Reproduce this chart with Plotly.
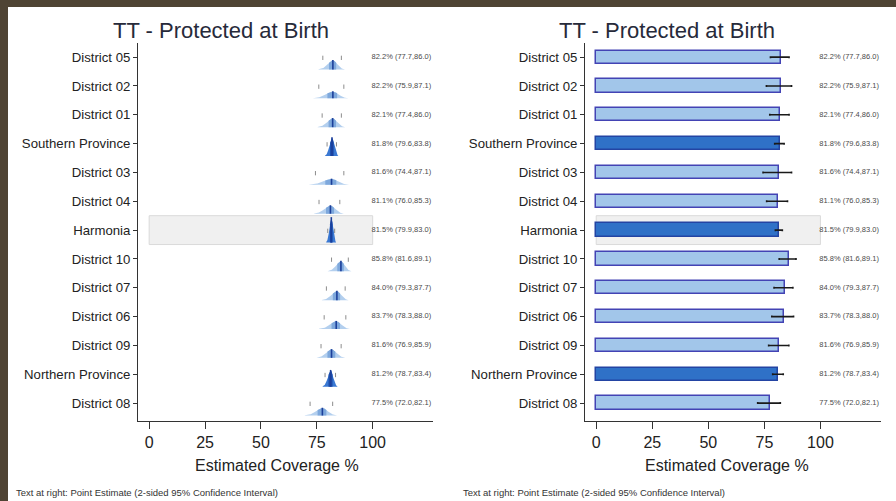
import numpy as np
import plotly.graph_objects as go

# ---- data -------------------------------------------------------------
labels = ["District 05", "District 02", "District 01", "Southern Province",
          "District 03", "District 04", "Harmonia", "District 10",
          "District 07", "District 06", "District 09", "Northern Province",
          "District 08"]
estimate = [82.2, 82.2, 82.1, 81.8, 81.6, 81.1, 81.5, 85.8, 84.0, 83.7, 81.6, 81.2, 77.5]
ci_low = [77.7, 75.9, 77.4, 79.6, 74.4, 76.0, 79.9, 81.6, 79.3, 78.3, 76.9, 78.7, 72.0]
ci_high = [86.0, 87.1, 86.0, 83.8, 87.1, 85.3, 83.0, 89.1, 87.7, 88.0, 85.9, 83.4, 82.1]
# 0 = district, 1 = province, 2 = national
level = [0, 0, 0, 1, 0, 0, 2, 0, 0, 0, 0, 1, 0]
x_ticks = [0, 25, 50, 75, 100]

title_text = "TT - Protected at Birth"
axis_title = "Estimated Coverage %"
footnote = "Text at right: Point Estimate (2-sided 95% Confidence Interval)"

# ---- styling ----------------------------------------------------------
FONT = "Liberation Sans, Arial, Helvetica, sans-serif"
W, H = 896, 501
rows = list(range(len(labels)))
national_row = level.index(2)

light_fill, light_line = "#a2c6ea", "#4343b4"
dark_fill, dark_line = "#2f71c7", "#2344a3"
worm_light, worm_light_core = "#b3cfee", "#7ea8dc"
worm_dark, worm_dark_core = "#3a78d2", "#1d4fae"

xdom_left = [138 / W, 433 / W]
xdom_right = [585 / W, 881 / W]
ydom = [1 - 421 / H, 1 - 43 / H]
yrange = [12.62, -0.49]
xrange = [-5, 127]

fig = go.Figure()

# ---- left panel: inchworm distributions ------------------------------
tick_x, tick_y = [], []
for i in rows:
    for v in (ci_low[i], ci_high[i]):
        tick_x += [v, v, None]
        tick_y += [i - 0.05, i + 0.1, None]
fig.add_trace(go.Scatter(x=tick_x, y=tick_y, mode="lines",
                         line=dict(color="#8c8c8c", width=1),
                         xaxis="x", yaxis="y", hoverinfo="skip", showlegend=False))

K = 2.6  # peak height (row units) times CI width
for i in rows:
    est, lo, hi = estimate[i], ci_low[i], ci_high[i]
    sdl, sdr = (est - lo) / 1.96, (hi - est) / 1.96
    base = i + 0.43
    peak = K / (hi - lo)
    xs = np.concatenate([np.linspace(est - 2.8 * sdl, est, 60),
                         np.linspace(est, est + 2.8 * sdr, 60)[1:]])
    sd = np.where(xs < est, sdl, sdr)
    dens = np.exp(-0.5 * ((xs - est) / sd) ** 2)
    ys = base - peak * dens
    outer, core = (worm_light, worm_light_core) if level[i] == 0 else (worm_dark, worm_dark_core)
    fig.add_trace(go.Scatter(
        x=np.concatenate([xs, xs[::-1]]),
        y=np.concatenate([ys, np.full_like(ys, base)]),
        fill="toself", fillcolor=outer, mode="lines", line=dict(width=0),
        xaxis="x", yaxis="y", hoverinfo="skip", showlegend=False))
    m = np.abs((xs - est) / sd) <= 0.8
    xc, yc = xs[m], ys[m]
    fig.add_trace(go.Scatter(
        x=np.concatenate([xc, xc[::-1]]),
        y=np.concatenate([yc, np.full_like(yc, base)]),
        fill="toself", fillcolor=core, mode="lines", line=dict(width=0),
        xaxis="x", yaxis="y", hoverinfo="skip", showlegend=False))
    fig.add_trace(go.Scatter(
        x=[est, est], y=[base, base - peak * 1.05], mode="lines",
        line=dict(color="#1c3f9a", width=1.6),
        xaxis="x", yaxis="y", hoverinfo="skip", showlegend=False))

value_text = [f"{e:.1f}% ({l:.1f},{h:.1f})" for e, l, h in zip(estimate, ci_low, ci_high)]

for xa, ya in (("x", "y"), ("x2", "y2")):
    fig.add_trace(go.Scatter(
        x=[99.5] * len(rows), y=rows, mode="text", text=value_text,
        textposition="middle right",
        textfont=dict(family=FONT, size=7.5, color="#4a4a4a"),
        xaxis=xa, yaxis=ya, hoverinfo="skip", showlegend=False))

# ---- right panel: bars with confidence intervals ---------------------
fig.add_trace(go.Bar(
    x=estimate, y=rows, orientation="h", width=0.46,
    marker=dict(color=[light_fill if lv == 0 else dark_fill for lv in level],
                line=dict(color=[light_line if lv == 0 else dark_line for lv in level], width=1.5)),
    error_x=dict(type="data", symmetric=False,
                 array=[h - e for e, h in zip(estimate, ci_high)],
                 arrayminus=[e - l for e, l in zip(estimate, ci_low)],
                 color="#1a1a1a", thickness=1.6, width=1),
    xaxis="x2", yaxis="y2", hoverinfo="skip", showlegend=False))

# ---- axes -------------------------------------------------------------
xa_common = dict(range=xrange, tickvals=x_ticks, ticks="outside", ticklen=7,
                 tickcolor="#333", tickwidth=1, showline=True, linecolor="#333",
                 linewidth=1, showgrid=False, zeroline=False,
                 tickfont=dict(family=FONT, size=16, color="#222"))
ya_common = dict(range=yrange, tickvals=rows, ticktext=labels, ticks="outside",
                 ticklen=4, tickcolor="#333", tickwidth=1, showline=True,
                 linecolor="#333", linewidth=1, showgrid=False, zeroline=False,
                 tickfont=dict(family=FONT, size=13.2, color="#222"))

band = dict(type="rect", x0=0, x1=100, y0=national_row - 0.5, y1=national_row + 0.5,
            fillcolor="#f0f0f0", line=dict(color="#dadada", width=1), layer="below")

annotations = []
for xc in (221 / W, 667 / W):
    annotations.append(dict(text=title_text, x=xc, y=1 - 31 / H, xref="paper", yref="paper",
                            xanchor="center", yanchor="middle", showarrow=False,
                            font=dict(family=FONT, size=22, color="#272a3a")))
for xc in (277 / W, 727 / W):
    annotations.append(dict(text=axis_title, x=xc, y=1 - 465 / H, xref="paper", yref="paper",
                            xanchor="center", yanchor="middle", showarrow=False,
                            font=dict(family=FONT, size=16, color="#222")))
for xl in (14 / W, 461 / W):
    annotations.append(dict(text=footnote, x=xl, y=1 - 492 / H, xref="paper", yref="paper",
                            xanchor="left", yanchor="middle", showarrow=False,
                            font=dict(family=FONT, size=9.5, color="#333")))

frame = "#4f4434"
fig.update_layout(
    width=W, height=H, margin=dict(l=0, r=0, t=0, b=0),
    paper_bgcolor="white", plot_bgcolor="rgba(0,0,0,0)",
    xaxis=dict(domain=xdom_left, anchor="y", **xa_common),
    yaxis=dict(domain=ydom, anchor="x", **ya_common),
    xaxis2=dict(domain=xdom_right, anchor="y2", **xa_common),
    yaxis2=dict(domain=ydom, anchor="x2", **ya_common),
    shapes=[dict(band, xref="x", yref="y"), dict(band, xref="x2", yref="y2"),
            dict(type="rect", xref="paper", yref="paper", x0=0, x1=8 / W, y0=0, y1=1,
                 fillcolor=frame, line=dict(width=0), layer="above"),
            dict(type="rect", xref="paper", yref="paper", x0=0, x1=1, y0=1 - 7 / H, y1=1,
                 fillcolor=frame, line=dict(width=0), layer="above")],
    annotations=annotations,
    bargap=0,
)

fig.write_html("out.html")
